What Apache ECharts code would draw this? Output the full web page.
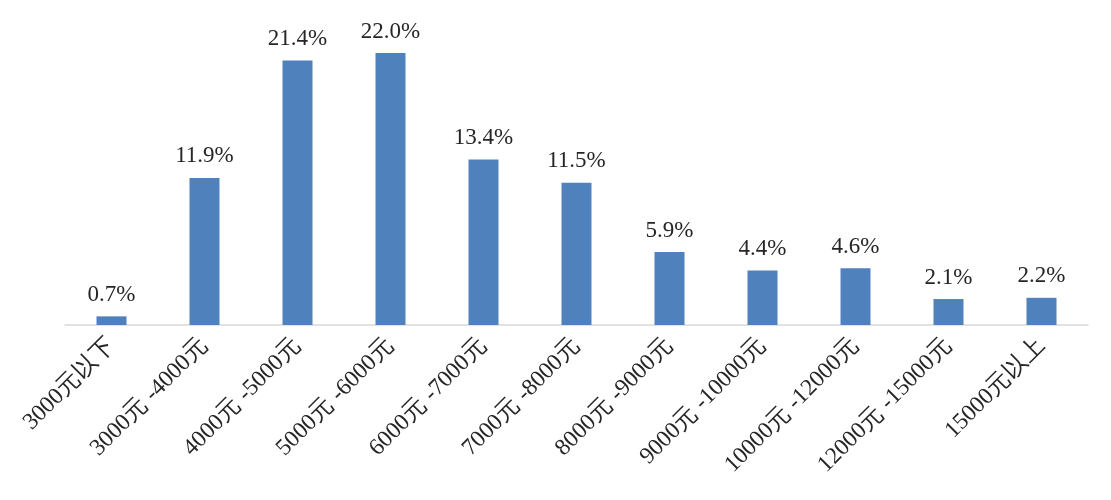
<!DOCTYPE html>
<html><head><meta charset="utf-8">
<script src="https://cdn.jsdelivr.net/npm/echarts@6/dist/echarts.min.js"></script>
<style>html,body{margin:0;padding:0;background:#fff}#c{width:1111px;height:500px}</style>
</head><body><div id="c"></div>
<script>
const categories = ["3000元以下","3000元 -4000元","4000元 -5000元","5000元 -6000元","6000元 -7000元","7000元 -8000元","8000元 -9000元","9000元 -10000元","10000元 -12000元","12000元 -15000元","15000元以上"];
const values = [0.7, 11.9, 21.4, 22.0, 13.4, 11.5, 5.9, 4.4, 4.6, 2.1, 2.2];
const chart = echarts.init(document.getElementById('c'));
chart.setOption({
  animation: false,
  grid: {left: 65, right: 23, top: 16, bottom: 175, containLabel: false},
  xAxis: {
    type: 'category', data: categories,
    axisLine: {lineStyle: {color: '#d9d9d9', width: 1.5}},
    axisTick: {show: false},
    axisLabel: {rotate: 45, interval: 0, fontFamily: 'Liberation Serif, serif', fontSize: 23.5, color: '#262626', margin: 17}
  },
  yAxis: {type: 'value', min: 0, max: 25, show: false, splitLine: {show: false}},
  series: [{
    type: 'bar', data: values, barWidth: 30,
    itemStyle: {color: '#4f81bd'},
    label: {show: true, position: 'top', distance: 10, formatter: p => p.value.toFixed(1) + '%', fontFamily: 'Liberation Serif, serif', fontSize: 23, color: '#262626'}
  }]
});
</script></body></html>
